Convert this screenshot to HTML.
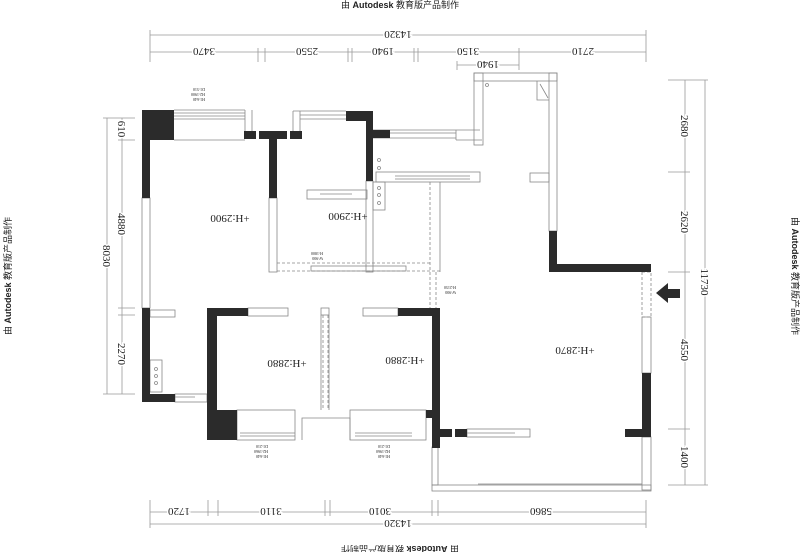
<!DOCTYPE html>
<html><head><meta charset="utf-8"><style>
html,body{margin:0;padding:0;background:#fff}
svg{display:block}
text{font-family:"Liberation Serif","Noto Serif CJK SC",serif;fill:#222}
.d text{stroke:#fff;stroke-width:3px;paint-order:stroke}
.w{font-family:"Liberation Sans","Noto Sans CJK SC",sans-serif;font-size:9px}
</style></head><body>
<svg width="800" height="552" viewBox="0 0 800 552" xmlns="http://www.w3.org/2000/svg">
<g stroke="#999" stroke-width="0.8" fill="none">
<line x1="150" y1="35" x2="646" y2="35"/>
<line x1="150" y1="52" x2="646" y2="52"/>
<line x1="150" y1="30" x2="150" y2="62"/><line x1="646" y1="30" x2="646" y2="62"/>
<line x1="258" y1="48" x2="258" y2="62"/><line x1="265" y1="48" x2="265" y2="62"/>
<line x1="348" y1="48" x2="348" y2="62"/><line x1="352" y1="48" x2="352" y2="62"/>
<line x1="414" y1="48" x2="414" y2="62"/><line x1="418" y1="48" x2="418" y2="62"/>
<line x1="519" y1="48" x2="519" y2="70"/>
<line x1="457" y1="65" x2="519" y2="65"/><line x1="457" y1="61" x2="457" y2="70"/>
<line x1="150" y1="512" x2="646" y2="512"/>
<line x1="150" y1="524" x2="646" y2="524"/>
<line x1="150" y1="500" x2="150" y2="528"/><line x1="646" y1="500" x2="646" y2="528"/>
<line x1="208" y1="500" x2="208" y2="516"/><line x1="218" y1="500" x2="218" y2="516"/>
<line x1="325" y1="500" x2="325" y2="516"/><line x1="330" y1="500" x2="330" y2="516"/>
<line x1="432" y1="500" x2="432" y2="516"/><line x1="438" y1="500" x2="438" y2="516"/>
<line x1="107" y1="118" x2="107" y2="394"/>
<line x1="122" y1="118" x2="122" y2="394"/>
<line x1="103" y1="118" x2="135" y2="118"/><line x1="103" y1="394" x2="135" y2="394"/>
<line x1="118" y1="140" x2="135" y2="140"/>
<line x1="118" y1="308" x2="135" y2="308"/><line x1="118" y1="315" x2="135" y2="315"/>
<line x1="685" y1="80" x2="685" y2="485"/>
<line x1="705" y1="80" x2="705" y2="485"/>
<line x1="668" y1="80" x2="708" y2="80"/><line x1="668" y1="485" x2="708" y2="485"/>
<line x1="668" y1="172" x2="690" y2="172"/><line x1="668" y1="272" x2="690" y2="272"/>
<line x1="668" y1="429" x2="690" y2="429"/>
</g>
<g font-size="11" class="d">
<text transform="translate(204,48) rotate(180)" text-anchor="middle">3470</text>
<text transform="translate(307,48) rotate(180)" text-anchor="middle">2550</text>
<text transform="translate(383,48) rotate(180)" text-anchor="middle">1940</text>
<text transform="translate(468,48) rotate(180)" text-anchor="middle">3150</text>
<text transform="translate(583,48) rotate(180)" text-anchor="middle">2710</text>
<text transform="translate(398,31) rotate(180)" text-anchor="middle">14320</text>
<text transform="translate(488,61) rotate(180)" text-anchor="middle">1940</text>
<text transform="translate(179,508) rotate(180)" text-anchor="middle">1720</text>
<text transform="translate(271,508) rotate(180)" text-anchor="middle">3110</text>
<text transform="translate(380,508) rotate(180)" text-anchor="middle">3010</text>
<text transform="translate(541,508) rotate(180)" text-anchor="middle">5860</text>
<text transform="translate(398,520) rotate(180)" text-anchor="middle">14320</text>
<text transform="translate(118,129) rotate(90)" text-anchor="middle">610</text>
<text transform="translate(118,224) rotate(90)" text-anchor="middle">4880</text>
<text transform="translate(103,256) rotate(90)" text-anchor="middle">8030</text>
<text transform="translate(118,354) rotate(90)" text-anchor="middle">2270</text>
<text transform="translate(681,126) rotate(90)" text-anchor="middle">2680</text>
<text transform="translate(681,222) rotate(90)" text-anchor="middle">2620</text>
<text transform="translate(681,350) rotate(90)" text-anchor="middle">4550</text>
<text transform="translate(681,457) rotate(90)" text-anchor="middle">1400</text>
<text transform="translate(701,282) rotate(90)" text-anchor="middle">11730</text>
</g>
<text class="w" x="400" y="8" text-anchor="middle">由 <tspan font-weight="bold">Autodesk</tspan> 教育版产品制作</text>
<text class="w" transform="translate(400,546) rotate(180)" text-anchor="middle">由 <tspan font-weight="bold">Autodesk</tspan> 教育版产品制作</text>
<text class="w" transform="translate(11,276) rotate(-90)" text-anchor="middle">由 <tspan font-weight="bold">Autodesk</tspan> 教育版产品制作</text>
<text class="w" transform="translate(792,276) rotate(90)" text-anchor="middle">由 <tspan font-weight="bold">Autodesk</tspan> 教育版产品制作</text>

<g stroke="#888" stroke-width="0.8" fill="none">
<rect x="142" y="198" width="8" height="110"/>
<line x1="174" y1="110" x2="245" y2="110"/><line x1="174" y1="113" x2="245" y2="113"/>
<line x1="174" y1="116" x2="245" y2="116"/><line x1="174" y1="119" x2="245" y2="119"/>
<line x1="174" y1="140" x2="245" y2="140"/><line x1="245" y1="110" x2="245" y2="131"/><line x1="252" y1="110" x2="252" y2="131"/>
<rect x="269" y="198" width="8" height="74"/>
<line x1="293" y1="111" x2="346" y2="111"/><line x1="300" y1="115" x2="346" y2="115"/><line x1="300" y1="119" x2="346" y2="119"/>
<line x1="293" y1="111" x2="293" y2="131"/><line x1="300" y1="111" x2="300" y2="131"/>
<line x1="373" y1="130" x2="480" y2="130"/><line x1="390" y1="133" x2="456" y2="133"/><line x1="373" y1="138" x2="456" y2="138"/>
<line x1="456" y1="130" x2="456" y2="140"/><line x1="456" y1="140" x2="482" y2="140"/>
<rect x="474" y="73" width="83" height="8"/>
<rect x="474" y="73" width="9" height="72"/>
<rect x="549" y="73" width="8" height="158"/>
<rect x="530" y="173" width="19" height="9"/>
<path d="M537 81 V100 H549 M540 84 L548 98"/>
<circle cx="487" cy="85" r="1.5"/>
<rect x="376" y="172" width="104" height="10"/><line x1="395" y1="176" x2="470" y2="176"/><line x1="395" y1="179" x2="470" y2="179"/>
<rect x="307" y="190" width="60" height="9"/><line x1="320" y1="194" x2="352" y2="194"/>
<rect x="366" y="181" width="7" height="91"/><rect x="373" y="182" width="12" height="28"/>
<circle cx="379" cy="188" r="1.5"/><circle cx="379" cy="195" r="1.5"/><circle cx="379" cy="203" r="1.5"/>
<circle cx="379" cy="160" r="1.5"/><circle cx="379" cy="168" r="1.5"/>
<rect x="311" y="266" width="95" height="5"/>
<line x1="430" y1="182" x2="430" y2="312" stroke-dasharray="3,2"/>
<line x1="277" y1="263" x2="432" y2="263" stroke-dasharray="3,2"/>
<line x1="277" y1="271" x2="440" y2="271" stroke-dasharray="3,2"/>
<line x1="440" y1="182" x2="440" y2="272"/>
<line x1="436" y1="272" x2="436" y2="308" stroke-dasharray="3,2"/>
<rect x="642" y="272" width="9" height="45" stroke-dasharray="3,2"/>
<rect x="642" y="317" width="9" height="56"/>
<rect x="642" y="437" width="9" height="53"/>
<rect x="432" y="485" width="219" height="6"/>
<line x1="478" y1="484" x2="642" y2="484"/>
<rect x="432" y="447" width="6" height="38"/>
<rect x="150" y="310" width="25" height="7"/><rect x="175" y="394" width="32" height="8"/><line x1="175" y1="397" x2="195" y2="397"/>
<rect x="150" y="360" width="12" height="32"/>
<circle cx="156" cy="369" r="1.5"/><circle cx="156" cy="376" r="1.5"/><circle cx="156" cy="383" r="1.5"/>
<rect x="248" y="308" width="40" height="8"/>
<rect x="237" y="410" width="58" height="30"/><line x1="240" y1="433" x2="295" y2="433"/><line x1="240" y1="436" x2="295" y2="436"/>
<rect x="321" y="308" width="8" height="7"/>
<line x1="323" y1="315" x2="323" y2="410" stroke-dasharray="3,2"/><line x1="328" y1="315" x2="328" y2="410" stroke-dasharray="3,2"/>
<line x1="321" y1="315" x2="321" y2="410"/><line x1="329" y1="315" x2="329" y2="410"/>
<path d="M302 440 V418 H350 V440"/>
<rect x="350" y="410" width="76" height="30"/><line x1="355" y1="433" x2="412" y2="433"/><line x1="355" y1="436" x2="412" y2="436"/>
<rect x="363" y="308" width="35" height="8"/>
<rect x="467" y="429" width="63" height="8"/><line x1="467" y1="433" x2="515" y2="433"/>
</g>

<g fill="#2b2b2b">
<rect x="142" y="110" width="32" height="30"/>
<rect x="142" y="110" width="8" height="88"/>
<rect x="244" y="131" width="12" height="8"/>
<rect x="259" y="131" width="28" height="8"/>
<rect x="290" y="131" width="12" height="8"/>
<rect x="269" y="131" width="8" height="67"/>
<rect x="346" y="111" width="27" height="10"/>
<rect x="366" y="111" width="7" height="70"/>
<rect x="373" y="130" width="17" height="8"/>
<rect x="549" y="231" width="8" height="41"/>
<rect x="549" y="264" width="102" height="8"/>
<rect x="642" y="373" width="9" height="64"/>
<rect x="625" y="429" width="26" height="8"/>
<rect x="142" y="308" width="8" height="94"/>
<rect x="142" y="394" width="33" height="8"/>
<rect x="207" y="308" width="41" height="8"/>
<rect x="207" y="308" width="10" height="132"/>
<rect x="207" y="410" width="30" height="30"/>
<rect x="398" y="308" width="42" height="8"/>
<rect x="432" y="308" width="8" height="140"/>
<rect x="426" y="410" width="14" height="8"/>
<rect x="440" y="429" width="12" height="8"/>
<rect x="455" y="429" width="12" height="8"/>
<path d="M656 293 L668 283 V289 H680 V298 H668 V303 Z"/>
</g>

<g font-size="11">
<text transform="translate(230,215) rotate(180)" text-anchor="middle">+H:2900</text>
<text transform="translate(348,213) rotate(180)" text-anchor="middle">+H:2900</text>
<text transform="translate(287,360) rotate(180)" text-anchor="middle">+H:2880</text>
<text transform="translate(405,357) rotate(180)" text-anchor="middle">+H:2880</text>
<text transform="translate(575,347) rotate(180)" text-anchor="middle">+H:2870</text>
</g>
<g font-size="4" fill="#555">
<text transform="translate(205,88) rotate(180)">D1:510</text>
<text transform="translate(205,93) rotate(180)">H2:1900</text>
<text transform="translate(205,98) rotate(180)">H1:640</text>
<text transform="translate(268,445) rotate(180)">D1:210</text>
<text transform="translate(268,450) rotate(180)">H2:1960</text>
<text transform="translate(268,455) rotate(180)">H1:640</text>
<text transform="translate(390,445) rotate(180)">D1:210</text>
<text transform="translate(390,450) rotate(180)">H2:1960</text>
<text transform="translate(390,455) rotate(180)">H1:640</text>
<text transform="translate(323,252) rotate(180)">H:1800</text>
<text transform="translate(323,257) rotate(180)">W:900</text>
<text transform="translate(456,286) rotate(180)">H:2150</text>
<text transform="translate(456,291) rotate(180)">W:900</text>
</g>
</svg>
</body></html>
